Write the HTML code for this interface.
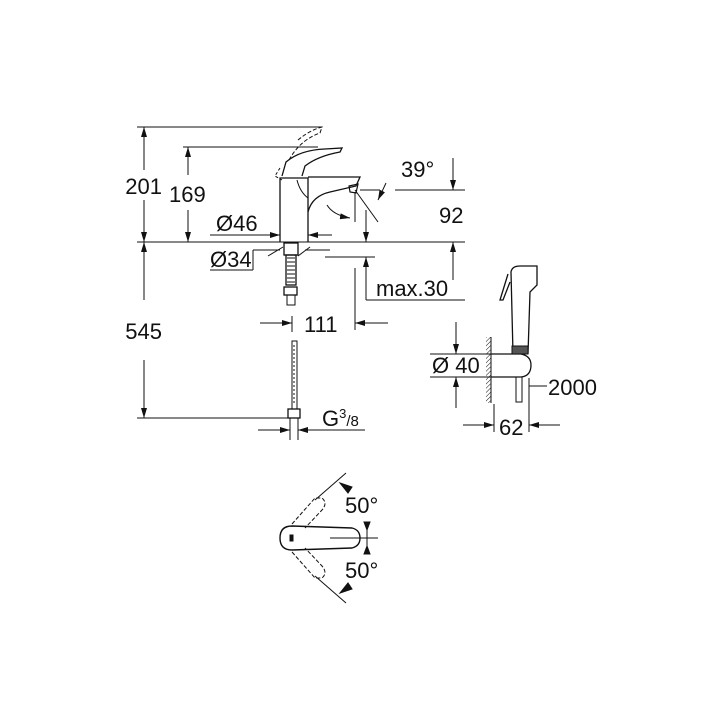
<!DOCTYPE html>
<html><head><meta charset="utf-8"><style>
html,body{margin:0;padding:0;background:#fff;}
svg{display:block;}
text{font-family:"Liberation Sans",sans-serif;fill:#111;}
</style></head><body>
<svg width="718" height="718" viewBox="0 0 718 718" xmlns="http://www.w3.org/2000/svg">
<defs>
<marker id="a" viewBox="0 0 10 6" refX="10" refY="3" markerWidth="10" markerHeight="6" orient="auto" markerUnits="userSpaceOnUse"><path d="M0,0 L10,3 L0,6z" fill="#111"/></marker>
<pattern id="h" width="3" height="3" patternUnits="userSpaceOnUse" patternTransform="rotate(45)"><line x1="0" y1="0" x2="0" y2="3" stroke="#111" stroke-width="1"/></pattern>
</defs>
<g stroke="#111" stroke-width="1" fill="none">
<line x1="137" y1="127" x2="322" y2="127"/>
<line x1="183" y1="147" x2="318" y2="147"/>
<line x1="137" y1="242" x2="465" y2="242"/>
<line x1="137" y1="418" x2="290" y2="418"/>
<line x1="144" y1="170" x2="144" y2="127" marker-end="url(#a)"/>
<line x1="144" y1="200" x2="144" y2="242" marker-end="url(#a)"/>
<line x1="144" y1="300" x2="144" y2="242" marker-end="url(#a)"/>
<line x1="144" y1="360" x2="144" y2="418" marker-end="url(#a)"/>
<line x1="188" y1="175" x2="188" y2="147" marker-end="url(#a)"/>
<line x1="188" y1="210" x2="188" y2="242" marker-end="url(#a)"/>
<path d="M280,242 L280,178 L308,178 L308,242" stroke-width="1.3"/>
<path d="M308,177 L360,177 L356,186 L330,192 Q312,196 308,212" stroke-width="1.3"/>
<path d="M349,186 L358,184 L356,193 L350,192z" stroke-width="1.2"/>
<path d="M282,176 L286,162 Q300,150 325,149 L342,148 L340,152 Q318,156 305,166 L302,176" stroke-width="1.3"/>
<path d="M289,160 Q300,140 320,133 L322,127 Q310,130 298,140" stroke-dasharray="4,2"/>
<path d="M280,168 L275,176 L282,180" stroke-dasharray="3,2"/>
<path d="M297,180 Q300,192 308,198" />
<line x1="360" y1="190" x2="380" y2="190"/>
<line x1="395" y1="190" x2="465" y2="190"/>
<line x1="355" y1="190" x2="378" y2="222"/>
<path d="M386,183 L378,200" marker-end="url(#a)"/>
<path d="M327,205 Q333,215 350,218" marker-end="url(#a)"/>
<line x1="355" y1="192" x2="355" y2="222"/>
<line x1="453" y1="158" x2="453" y2="190" marker-end="url(#a)"/>
<line x1="453" y1="280" x2="453" y2="242" marker-end="url(#a)"/>
<line x1="366" y1="210" x2="366" y2="242" marker-end="url(#a)"/>
<line x1="325" y1="257" x2="375" y2="257"/>
<line x1="366" y1="300" x2="366" y2="257" marker-end="url(#a)"/>
<line x1="366" y1="300" x2="465" y2="300"/>
<line x1="355" y1="268" x2="355" y2="330"/>
<line x1="260" y1="323" x2="292" y2="323" marker-end="url(#a)"/>
<line x1="388" y1="323" x2="355" y2="323" marker-end="url(#a)"/>
<line x1="292" y1="316" x2="292" y2="332"/>
<line x1="210" y1="235" x2="280" y2="235" marker-end="url(#a)"/>
<line x1="332" y1="235" x2="308" y2="235" marker-end="url(#a)"/>
<line x1="210" y1="270" x2="253" y2="270"/>
<line x1="253" y1="270" x2="253" y2="250"/>
<line x1="253" y1="250" x2="280" y2="250"/>
<line x1="268" y1="256" x2="283" y2="247"/>
<line x1="310" y1="247" x2="298" y2="256"/>
<line x1="305" y1="250" x2="330" y2="250"/>
<rect x="284" y="243" width="14" height="12" stroke-width="1.3"/>
<rect x="286" y="255" width="10" height="30" stroke-width="1.3"/>
<path d="M287,258 h8 M287,262 h8 M287,266 h8 M287,270 h8 M287,274 h8 M287,278 h8 M287,282 h8" />
<rect x="284" y="287" width="13" height="8" stroke-width="1.3"/>
<rect x="287" y="295" width="8" height="10"/>
<rect x="292" y="341" width="5" height="68"/>
<path d="M294,345 v60" stroke-dasharray="2,2"/>
<rect x="288" y="409" width="12" height="9" stroke-width="1.3"/>
<line x1="290" y1="418" x2="290" y2="440"/>
<line x1="298" y1="418" x2="298" y2="440"/>
<line x1="258" y1="430" x2="290" y2="430" marker-end="url(#a)"/>
<line x1="330" y1="430" x2="298" y2="430" marker-end="url(#a)"/>
<line x1="320" y1="430" x2="365" y2="430"/>
<rect x="486" y="337" width="5" height="66" fill="url(#h)" stroke="none"/>
<line x1="491" y1="337" x2="491" y2="403"/>
<path d="M491,354 L521,354 Q531,356 531,365 Q531,376 521,377 L491,377" stroke-width="1.3"/>
<path d="M513,354 L511,272 Q512,266 520,266 L537,266 L537,285 L530,292 L528,354" stroke-width="1.3"/>
<rect x="512" y="346" width="16" height="8" fill="#555"/>
<path d="M508,274 L500,300 L503,300 L510,282" stroke-width="1.3"/>
<rect x="516" y="377" width="6" height="25"/>
<line x1="529" y1="378" x2="529" y2="432"/>
<line x1="494" y1="404" x2="494" y2="432"/>
<line x1="529" y1="386" x2="547" y2="386"/>
<line x1="463" y1="425" x2="494" y2="425" marker-end="url(#a)"/>
<line x1="560" y1="425" x2="529" y2="425" marker-end="url(#a)"/>
<line x1="456" y1="322" x2="456" y2="354" marker-end="url(#a)"/>
<line x1="456" y1="408" x2="456" y2="377" marker-end="url(#a)"/>
<line x1="430" y1="354" x2="491" y2="354"/>
<line x1="430" y1="377" x2="491" y2="377"/>
<path d="M292,526 L352,528 Q360,530 360,538 Q360,546 352,548 L292,550 Q280,550 280,538 Q280,526 292,526z" stroke-width="1.4"/>
<rect x="290" y="535" width="3" height="6" fill="#111"/>
<line x1="330" y1="538" x2="378" y2="538"/>
<path d="M292,524 L315,498 L322,498 Q328,503 322,510 L305,528" stroke-dasharray="4,2"/>
<path d="M292,552 L315,578 L322,578 Q328,573 322,566 L305,548" stroke-dasharray="4,2"/>
<line x1="315" y1="500" x2="346" y2="473"/>
<line x1="315" y1="576" x2="346" y2="603"/>
<line x1="367" y1="523" x2="367" y2="553"/>
<path d="M340,483 L352,487 L348,493z" fill="#111"/>
<path d="M340,593 L352,589 L348,583z" fill="#111"/>
<path d="M364,522 L370,522 L367,530z" fill="#111"/>
<path d="M364,554 L370,554 L367,546z" fill="#111"/>
</g>
<g font-size="22">
<text x="162" y="194" text-anchor="end">201</text>
<text x="169" y="202">169</text>
<text x="162" y="339" text-anchor="end">545</text>
<text x="216" y="231">Ø46</text>
<text x="210" y="267">Ø34</text>
<text x="401" y="177">39°</text>
<text x="439" y="223">92</text>
<text x="376" y="296">max.30</text>
<text x="304" y="332">111</text>
<text x="322" y="426">G<tspan font-size="13" dy="-8">3</tspan><tspan font-size="15" dy="8">/8</tspan></text>
<text x="432" y="373">Ø 40</text>
<text x="548" y="395">2000</text>
<text x="499" y="435">62</text>
<text x="345" y="513">50°</text>
<text x="345" y="578">50°</text>
</g>
</svg>
</body></html>
